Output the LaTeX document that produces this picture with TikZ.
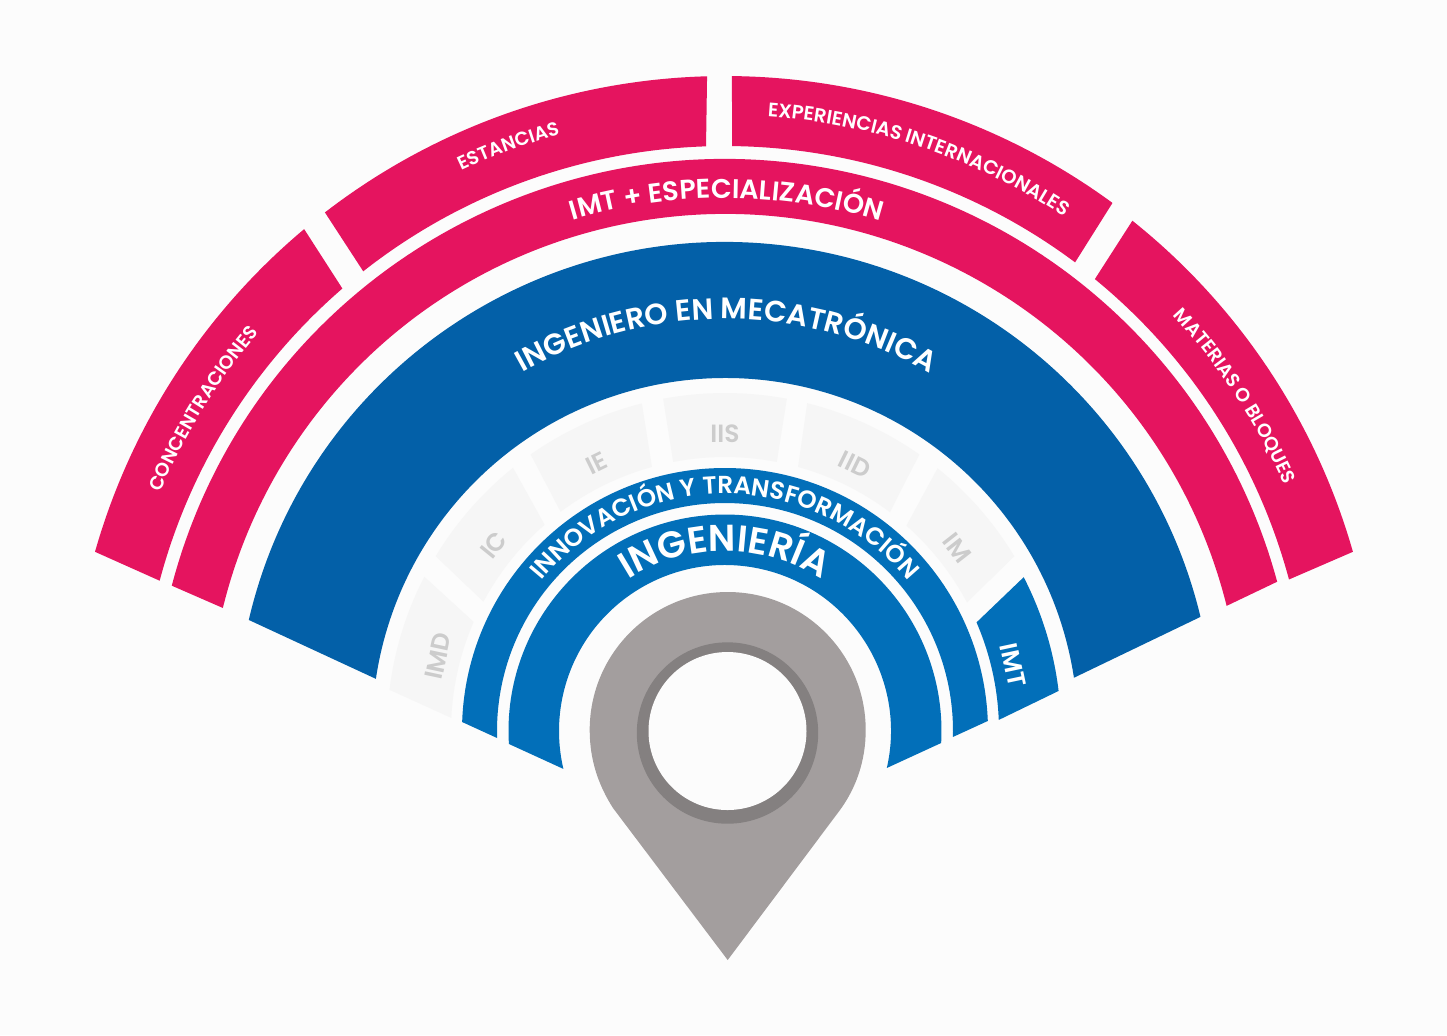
\documentclass[tikz,border=0pt]{standalone}
\usepackage{xcolor}
\usepackage{fontspec}
\usepackage{tikz}
\usetikzlibrary{decorations.text}
\setmainfont{Poppins}[UprightFont=* Medium, BoldFont=* SemiBold]
\definecolor{pagebg}{HTML}{FCFCFC}
\definecolor{pinkbar}{HTML}{E5145F}
\definecolor{darkbar}{HTML}{0360A8}
\definecolor{lightbar}{HTML}{026FB9}
\definecolor{greyblock}{HTML}{F6F6F6}
\definecolor{greytext}{HTML}{CCCCCC}
\definecolor{pinbody}{HTML}{A39E9E}
\definecolor{pinring}{HTML}{848080}
% colour, inner r, outer r, outer from, outer to, inner from, inner to
\newcommand{\ringblock}[7]{\fill[#1] (#4:#3) arc[start angle=#4, end angle=#5, radius=#3] -- (#6:#2) arc[start angle=#6, end angle=#7, radius=#2] -- cycle;}
% font size, baseline r, from, to, text
\newcommand{\ringlabel}[5]{\path[decorate, decoration={text along path, text align=center, text={|\fontsize{#1}{#1}\selectfont\bfseries\color{white}|#5}}] (#3:#2) arc[start angle=#3, end angle=#4, radius=#2];}

\begin{document}
\begin{tikzpicture}[block label/.style={font=\fontsize{7.1pt}{7.5pt}\selectfont\bfseries, text=greytext, inner sep=0pt}]
    % Page
    \fill[pagebg] (-7.25, 7.31) rectangle (7.22, -3.04);
    \useasboundingbox (-7.25, 7.31) rectangle (7.22, -3.04);

    % Outer Pink Blocks
    \ringblock{pinkbar}{5.85}{6.55}{129.98}{164.12}{165.11}{130.85}
    \ringblock{pinkbar}{5.85}{6.55}{127.65}{91.57}{91.86}{128.2}
    \ringblock{pinkbar}{5.85}{6.55}{89.39}{53.73}{53.24}{89.31}
    \ringblock{pinkbar}{5.84}{6.53}{51.4}{15.93}{15.04}{50.7}
    \ringlabel{5.4pt}{6.13}{157.8}{138.8}{CONCENTRACIONES}
    \ringlabel{5.4pt}{6.19}{120.3}{100.3}{ESTANCIAS}
    \ringlabel{5.55pt}{6.16}{91.3}{51.3}{EXPERIENCIAS INTERNACIONALES}
    \ringlabel{5.4pt}{6.11}{48.3}{18.3}{MATERIAS O BLOQUES}

    % Second Pink Ring
    \ringblock{pinkbar}{5.17}{5.72}{165.28}{15.13}{14.01}{166.23}
    \ringlabel{7.7pt}{5.33}{129.8}{49.8}{IMT + ESPECIALIZACIÓN}

    % Big Blue Ring
    \ringblock{darkbar}{3.53}{4.89}{166.87}{13.5}{8.68}{171.5}
    \ringlabel{8.4pt}{4.12}{139.8}{39.8}{INGENIERO EN MECATRÓNICA}

    % Grey Blocks
    \ringblock{greyblock}{2.74}{3.38}{173}{152.83}{156.53}{177.26}
    \ringblock{greyblock}{2.74}{3.38}{148.86}{128.84}{131.17}{151.84}
    \ringblock{greyblock}{2.74}{3.38}{125.1}{104.24}{105.46}{126.87}
    \ringblock{greyblock}{2.74}{3.38}{100.55}{79.45}{79.1}{100.9}
    \ringblock{greyblock}{2.74}{3.38}{75.92}{54.9}{53}{74.54}
    \ringblock{greyblock}{2.74}{3.38}{51.03}{31.14}{27.97}{48.54}
    \node[block label, rotate=78] (imd) at (-2.87, 0.75) {IMD};
    \node[block label, rotate=51] (ic) at (-2.31, 1.86) {IC};
    \node[block label, rotate=26] (ie) at (-1.28, 2.68) {IE};
    \node[block label] (iis) at (0, 2.97) {IIS};
    \node[block label, rotate=-26] (iid) at (1.30, 2.66) {IID};
    \node[block label, rotate=-52] (im) at (2.32, 1.83) {IM};

    % Blue Block
    \ringblock{lightbar}{2.74}{3.36}{27.25}{6.85}{2.32}{23.36}
    \node[block label, text=white, rotate=-78] (imt) at (2.88, 0.66) {IMT};

    % Inner Blue Rings
    \ringblock{lightbar}{2.28}{2.63}{178.04}{2.19}{-1.5}{181.76}
    \ringlabel{7pt}{2.37}{170}{10}{INNOVACIÓN Y TRANSFORMACIÓN}
    \ringblock{lightbar}{1.66}{2.165}{183.43}{-3.17}{-12.87}{193.2}
    \ringlabel{10.6pt}{1.80}{170}{10}{INGENIERÍA}

    % Pin
    \fill[pinbody] (0.027, -2.29) -- (1.15, -0.79) .. controls (1.31, -0.57) and (1.407, -0.30) .. (1.407, 0.01)
        arc[start angle=0, end angle=180, radius=1.38]
        .. controls (-1.353, -0.30) and (-1.26, -0.55) .. (-1.12, -0.77) -- cycle;
    \fill[pinring] (0.025, -0.02) circle (0.907);
    \fill[pagebg] (0.025, 0) circle (0.79);
\end{tikzpicture}
\end{document}
